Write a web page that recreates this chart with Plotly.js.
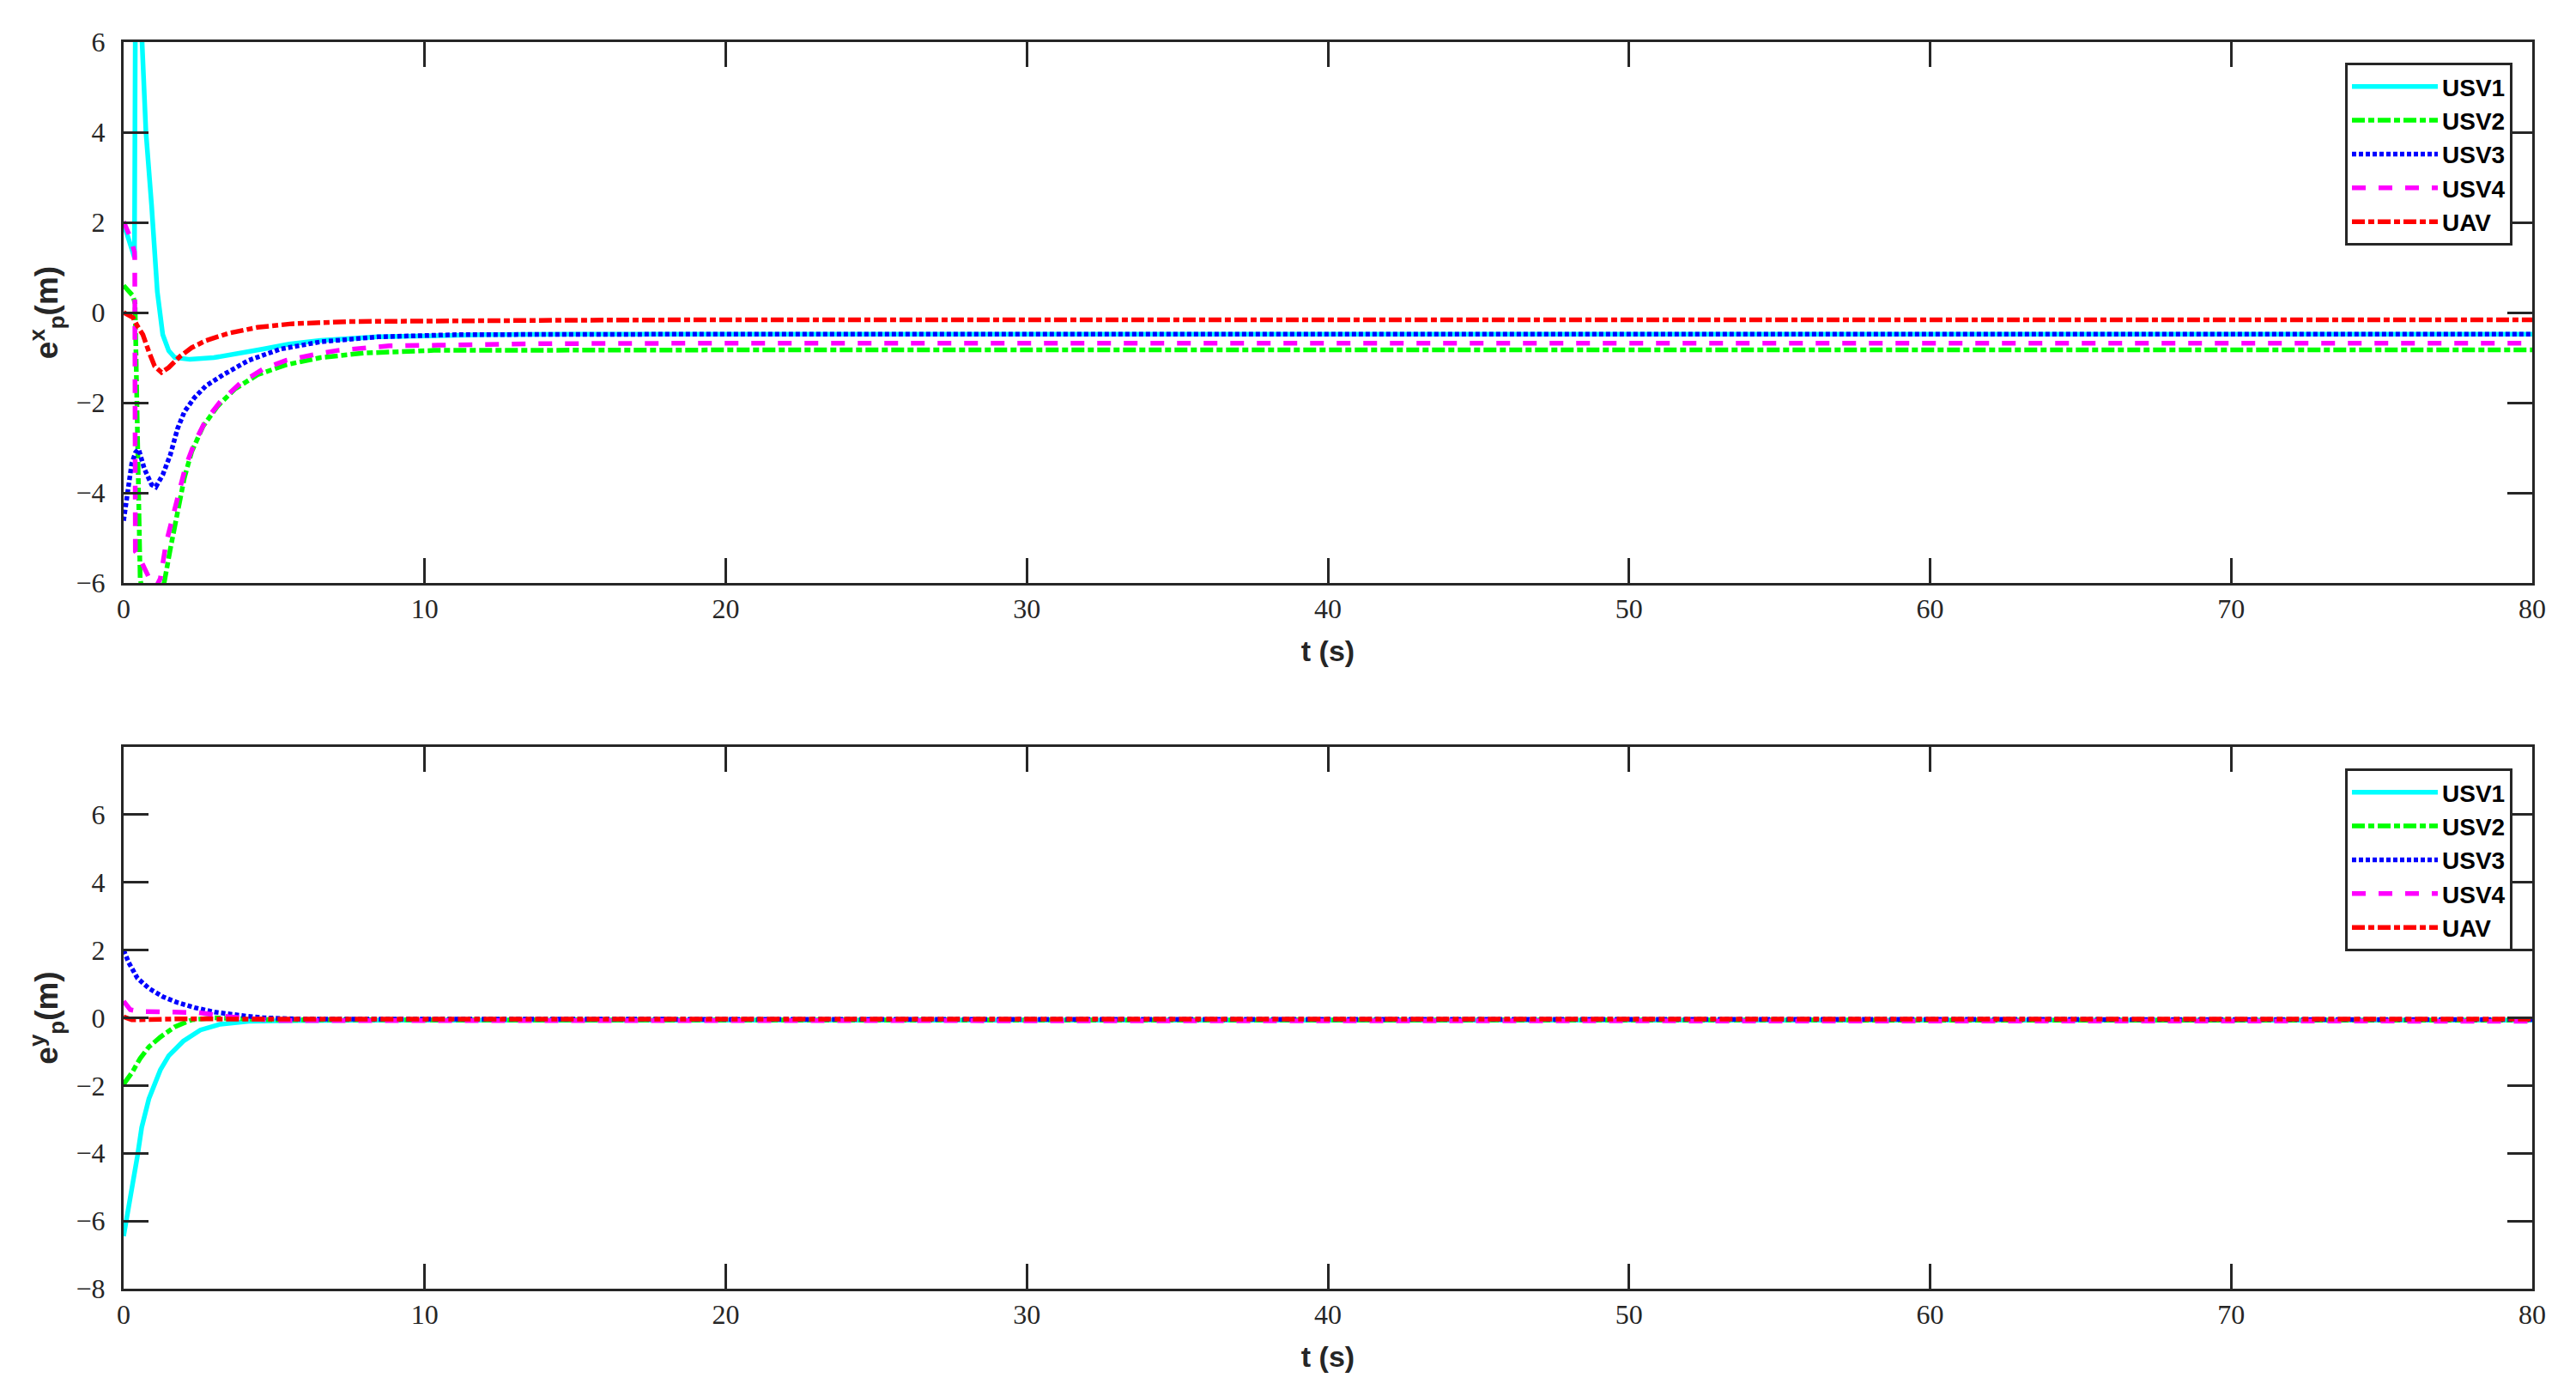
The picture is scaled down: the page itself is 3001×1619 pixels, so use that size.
<!DOCTYPE html>
<html>
<head>
<meta charset="utf-8">
<script src="https://cdn.plot.ly/plotly-3.0.1.min.js"></script>
<style>
  html, body { margin: 0; padding: 0; background: #fff; }
  #chart { width: 3001px; height: 1619px; }
</style>
</head>
<body>
<div id="chart"></div>
<script>
// top panel: e_p^x (m)
const tUsv1X = [0, 0.2, 0.36, 0.39, 0.45, 0.53, 0.6, 0.74, 0.93, 1.12, 1.3, 1.5, 1.7, 2.2, 3.0, 4.0, 4.64, 5.5, 6.54, 8.44, 10, 12, 15, 20, 80];
const eUsv1X = [1.98, 1.6, 1.22, 6.5, 7.5, 7.3, 6.0, 4.02, 2.37, 0.46, -0.49, -0.85, -1.0, -1.04, -1.0, -0.9, -0.81, -0.7, -0.62, -0.54, -0.51, -0.49, -0.48, -0.48, -0.48];

const tUsv2X = [0, 0.31, 0.38, 0.42, 0.48, 0.55, 0.65, 0.95, 1.2, 1.36, 1.55, 1.79, 2.02, 2.26, 2.64, 3.12, 3.69, 4.45, 5.4, 6.54, 7.97, 10.3, 14, 20, 80];
const eUsv2X = [0.6, 0.37, 0.2, -1.5, -4.0, -5.9, -6.3, -6.6, -6.4, -5.95, -5.25, -4.43, -3.66, -3.09, -2.52, -2.08, -1.7, -1.38, -1.16, -1.0, -0.9, -0.84, -0.83, -0.83, -0.83];

const tUsv3X = [0, 0.12, 0.27, 0.4, 0.5, 0.69, 0.93, 1.07, 1.3, 1.55, 1.79, 2.02, 2.35, 2.73, 3.31, 4.16, 5.21, 6.54, 8.44, 11.1, 15, 20, 80];
const eUsv3X = [-4.62, -3.98, -3.35, -3.1, -3.03, -3.47, -3.82, -3.87, -3.6, -3.16, -2.58, -2.2, -1.89, -1.63, -1.38, -1.06, -0.81, -0.65, -0.54, -0.49, -0.48, -0.48, -0.48];

const tUsv4X = [0, 0.2, 0.36, 0.37, 0.39, 0.5, 0.64, 0.8, 0.93, 1.07, 1.22, 1.41, 1.64, 1.87, 2.06, 2.35, 2.73, 3.21, 3.87, 4.64, 5.4, 6.35, 7.11, 8.82, 10.5, 14, 20, 80];
const eUsv4X = [2.02, 1.7, 1.35, 1.2, -5.3, -5.4, -5.6, -5.8, -6.0, -6.1, -5.9, -5.12, -4.55, -3.98, -3.41, -2.9, -2.39, -1.98, -1.57, -1.25, -1.06, -0.93, -0.84, -0.74, -0.72, -0.69, -0.68, -0.68];

const tUavX = [0, 0.31, 0.46, 0.64, 0.84, 1.03, 1.26, 1.5, 1.88, 2.26, 2.74, 3.49, 4.44, 5.58, 7.48, 10.8, 15, 20, 80];
const eUavX = [0, -0.11, -0.3, -0.49, -0.87, -1.19, -1.33, -1.22, -0.97, -0.78, -0.62, -0.46, -0.33, -0.25, -0.2, -0.18, -0.17, -0.16, -0.16];

// bottom panel: e_p^y (m)
const tUsv1Y = [0, 0.22, 0.46, 0.6, 0.84, 1.22, 1.5, 1.98, 2.55, 3.21, 4.16, 5.5, 8, 80];
const eUsv1Y = [-6.45, -5.35, -4.08, -3.24, -2.39, -1.54, -1.12, -0.69, -0.36, -0.19, -0.1, -0.08, -0.07, -0.07];

const tUsv2Y = [0, 0.27, 0.55, 0.84, 1.22, 1.69, 2.26, 3.0, 5, 80];
const eUsv2Y = [-1.96, -1.63, -1.2, -0.86, -0.57, -0.27, -0.06, 0.0, -0.06, -0.07];

const tUsv3Y = [0, 0.17, 0.46, 0.84, 1.31, 1.79, 2.36, 3.02, 3.88, 4.64, 6, 80];
const eUsv3Y = [2.0, 1.63, 1.17, 0.87, 0.62, 0.45, 0.3, 0.17, 0.07, 0.0, -0.04, -0.05];

const tUsv4Y = [0, 0.22, 0.5, 1.5, 2.5, 3.5, 5, 80];
const eUsv4Y = [0.49, 0.24, 0.19, 0.18, 0.15, 0.03, -0.08, -0.1];

const tUavY = [0, 0.27, 0.8, 2, 4, 80];
const eUavY = [0.03, -0.06, -0.05, -0.03, -0.04, -0.04];

const names = ['USV1', 'USV2', 'USV3', 'USV4', 'UAV'];
const colors = ['#00ffff', '#00ff00', '#0000ff', '#ff00ff', '#ff0000'];
const dashes = ['solid', '15px,4px,7px,4px', '5px,3px', '16px,15px', '15px,4px,7px,4px'];

const topT = [tUsv1X, tUsv2X, tUsv3X, tUsv4X, tUavX];
const topE = [eUsv1X, eUsv2X, eUsv3X, eUsv4X, eUavX];
const botT = [tUsv1Y, tUsv2Y, tUsv3Y, tUsv4Y, tUavY];
const botE = [eUsv1Y, eUsv2Y, eUsv3Y, eUsv4Y, eUavY];

const lineW = 5.5;
const ink = '#262626';

const data = [];
names.forEach((n, i) => {
    data.push({
        x: topT[i], y: topE[i], type: 'scatter', mode: 'lines', name: n,
        xaxis: 'x', yaxis: 'y', legend: 'legend',
        line: {color: colors[i], width: lineW, dash: dashes[i]}
    });
});
names.forEach((n, i) => {
    data.push({
        x: botT[i], y: botE[i], type: 'scatter', mode: 'lines', name: n,
        xaxis: 'x2', yaxis: 'y2', legend: 'legend2',
        line: {color: colors[i], width: lineW, dash: dashes[i]}
    });
});

const tickFont = {family: '"Liberation Serif", serif', size: 32, color: ink};
const xTitleFont = {family: '"Liberation Sans", Arial, sans-serif', size: 34, color: ink, weight: 'bold'};
const yTitleFont = {family: '"Liberation Sans", Arial, sans-serif', size: 37, color: ink, weight: 'bold'};
const legendFont = {family: '"Liberation Sans", Arial, sans-serif', size: 28, color: '#000', weight: 'bold'};

function xAxis(anchor) {
    return {
        anchor: anchor, domain: [0, 1], range: [0, 80],
        tickvals: [0, 10, 20, 30, 40, 50, 60, 70, 80],
        ticks: 'inside', ticklen: 29, tickwidth: 3, tickcolor: ink,
        showline: true, linewidth: 3, linecolor: ink, mirror: 'ticks',
        showgrid: false, zeroline: false, tickfont: tickFont,
        ticklabelstandoff: 0,
        title: {text: 't (s)', font: xTitleFont, standoff: 20}
    };
}
function yAxis(anchor, domain, range, ticks, label) {
    return {
        anchor: anchor, domain: domain, range: range, tickvals: ticks,
        ticks: 'inside', ticklen: 29, tickwidth: 3, tickcolor: ink,
        showline: true, linewidth: 3, linecolor: ink, mirror: 'ticks',
        showgrid: false, zeroline: false, tickfont: tickFont,
        ticklabelstandoff: 12,
        title: {text: label, font: yTitleFont, standoff: 10}
    };
}

const legendBase = {
    xanchor: 'right', yanchor: 'top', bgcolor: '#fff',
    bordercolor: ink, borderwidth: 3, font: legendFont,
    itemwidth: 100, tracegroupgap: 0
};

const layout = {
    width: 3001, height: 1619,
    paper_bgcolor: '#fff', plot_bgcolor: '#fff',
    margin: {l: 144, r: 51, t: 49, b: 118},
    showlegend: true,
    xaxis: xAxis('y'),
    yaxis: yAxis('x', [0.5661, 1], [-6, 6], [-6, -4, -2, 0, 2, 4, 6], 'e<sup>x</sup><sub>p</sub>(m)'),
    xaxis2: xAxis('y2'),
    yaxis2: yAxis('x2', [0, 0.4346], [-8, 8], [-8, -6, -4, -2, 0, 2, 4, 6], 'e<sup>y</sup><sub>p</sub>(m)'),
    legend: Object.assign({x: 0.9918, y: 0.9835}, legendBase),
    legend2: Object.assign({x: 0.9918, y: 0.4174}, legendBase)
};

Plotly.newPlot('chart', data, layout, {displayModeBar: false, staticPlot: true});
</script>
</body>
</html>
